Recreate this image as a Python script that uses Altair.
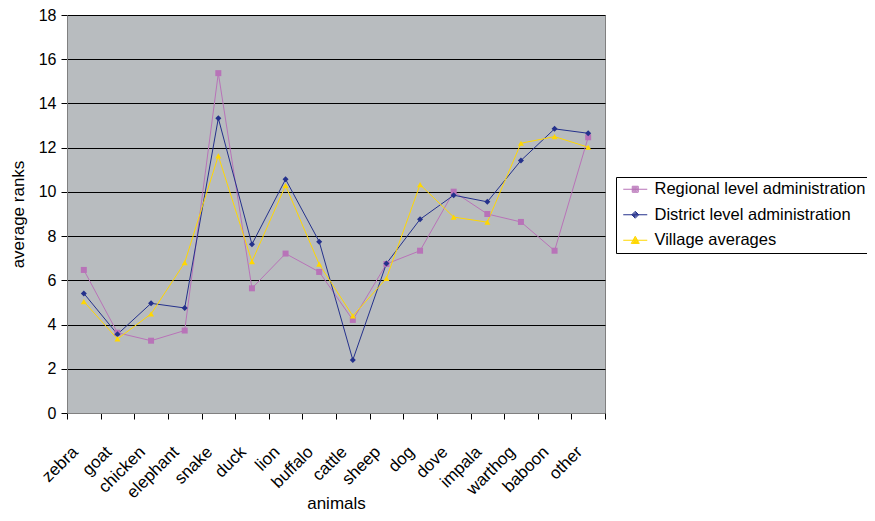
import altair as alt
import pandas as pd

animals = ["zebra", "goat", "chicken", "elephant", "snake", "duck", "lion", "buffalo",
           "cattle", "sheep", "dog", "dove", "impala", "warthog", "baboon", "other"]
regional = [6.47, 3.63, 3.27, 3.73, 15.37, 5.64, 7.21, 6.38, 4.21, 6.74, 7.34, 10.01, 9.0, 8.64, 7.34, 12.47]
district = [5.41, 3.56, 4.96, 4.75, 13.33, 7.63, 10.57, 7.75, 2.40, 6.76, 8.76, 9.85, 9.55, 11.42, 12.85, 12.65]
village = [5.04, 3.35, 4.48, 6.80, 11.63, 6.85, 10.29, 6.73, 4.39, 6.09, 10.33, 8.86, 8.63, 12.20, 12.50, 12.02]

series_names = ["Regional level administration", "District level administration", "Village averages"]
series_colors = ["#B873B8", "#24318C", "#FFD700"]
series_shapes = ["square", "diamond", "triangle-up"]


def sq(h):
    return f"M{-h},{-h}H{h}V{h}H{-h}Z"


def dia(h):
    return f"M0,{-h}L{h},0L0,{h}L{-h},0Z"


def tri(h):
    return f"M0,{-h}L{h},{0.8 * h}L{-h},{0.8 * h}Z"


# legend symbols: a short line with the marker on it (marker filled by nested outlines)
legend_paths = [
    "M-2,0H2" + "".join(sq(h) for h in (0.5, 0.33, 0.17, 0.04)),
    "M-2,0H2" + "".join(dia(h) for h in (0.58, 0.4, 0.23, 0.07)),
    "M-2,0H2" + "".join(tri(h) for h in (0.67, 0.47, 0.27, 0.08)),
]

rows = []
for name, vals in zip(series_names, [regional, district, village]):
    for a, v in zip(animals, vals):
        rows.append({"animal": a, "value": v, "series": name})
df = pd.DataFrame(rows)

font = "Liberation Sans"
plot_fill = "#B8BCBF"

x_enc = alt.X("animal:N", sort=animals, bandPosition=0.5,
              scale=alt.Scale(type="band", paddingInner=0, paddingOuter=0),
              axis=alt.Axis(title="animals", labelAngle=-45, labelAlign="right", labelBaseline="middle",
                            labelOffset=-9, labelPadding=30,
                            tickBand="extent", tickSize=6, tickColor="#000000", domainColor="#808080",
                            labelFontSize=17, labelFont=font, labelColor="#000000",
                            titleFontSize=17, titleFont=font, titleFontWeight="normal",
                            titleColor="#000000", titleBaseline="middle", titleY=90, grid=False))
y_enc = alt.Y("value:Q",
              scale=alt.Scale(domain=[0, 18], nice=False, zero=True),
              axis=alt.Axis(title="average ranks", values=list(range(0, 19, 2)), tickSize=6,
                            tickColor="#000000", domainColor="#808080",
                            gridColor="#000000", gridWidth=1, gridOpacity=1,
                            labelFontSize=16, labelFont=font, labelColor="#000000", labelPadding=5,
                            titleFontSize=17, titleFont=font, titleFontWeight="normal",
                            titleColor="#000000", titleBaseline="middle", titleX=-49))

color_scale = alt.Scale(domain=series_names, range=series_colors)
color_plain = alt.Color("series:N", sort=series_names, scale=color_scale, legend=None)

legend_props = dict(title=None, orient="none", legendX=549, legendY=162,
                    strokeColor="#000000", fillColor="#FFFFFF", padding=4,
                    labelFontSize=16.5, labelFont=font, labelColor="#000000",
                    labelLimit=400, rowPadding=8.5, symbolSize=144,
                    symbolOffset=7, labelOffset=11, symbolStrokeWidth=1)

base = alt.Chart(df)
lines = base.mark_line(strokeWidth=1).encode(
    x=x_enc, y=y_enc, color=color_plain, detail="series:N")
points = base.mark_point(filled=True, size=36, opacity=1).encode(
    x=x_enc, y=y_enc, color=color_plain,
    shape=alt.Shape("series:N", sort=series_names,
                    scale=alt.Scale(domain=series_names, range=series_shapes), legend=None))
legend_layer = base.transform_filter("false").mark_point(filled=False, strokeWidth=1, opacity=1).encode(
    color=alt.Color("series:N", sort=series_names, scale=color_scale, legend=alt.Legend(**legend_props)),
    shape=alt.Shape("series:N", sort=series_names,
                    scale=alt.Scale(domain=series_names, range=legend_paths),
                    legend=alt.Legend(**legend_props)))

chart = alt.layer(lines, points, legend_layer).resolve_scale(
    color="independent", shape="independent"
).properties(
    width=538, height=398,
    autosize=alt.AutoSizeParams(type="none"),
    padding={"left": 59, "top": 7, "right": 262, "bottom": 100},
    background="#FFFFFF",
    view=alt.ViewBackground(fill=plot_fill, stroke="#808080", strokeWidth=1),
).configure_view(fill=plot_fill, stroke="#808080", strokeWidth=1)

chart.save("out.html", embed_options={"renderer": "svg", "actions": False})
